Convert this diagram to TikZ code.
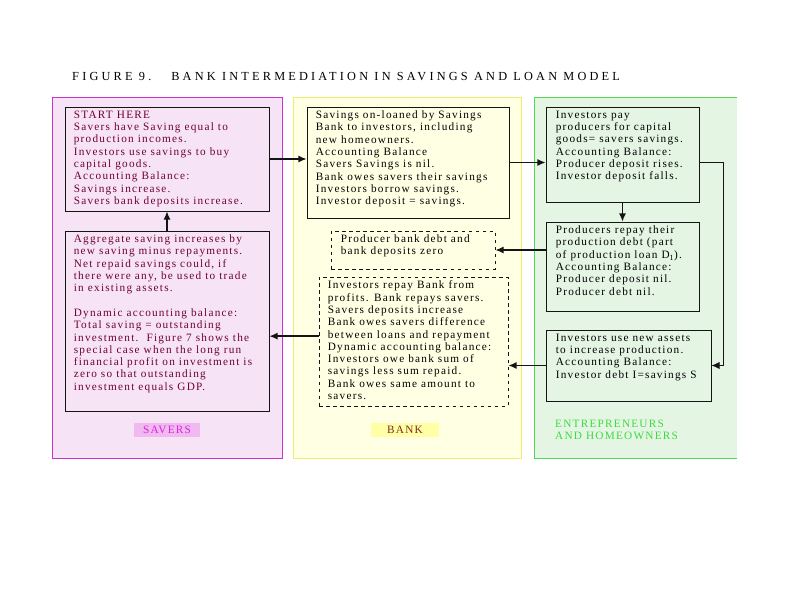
\documentclass[tikz,border=0pt]{standalone}
\usepackage{fontspec}
\setmainfont{Liberation Serif}
\newfontfamily\figfont[LetterSpace=11]{Liberation Serif}
\newfontfamily\ttlfont[LetterSpace=26]{Liberation Serif}
\usetikzlibrary{arrows.meta,calc}
\definecolor{figline}{RGB}{20,20,20}
\definecolor{savline}{RGB}{204,51,204}
\definecolor{savfill}{RGB}{246,228,246}
\definecolor{savtext}{RGB}{112,0,48}
\definecolor{savlab}{RGB}{221,34,221}
\definecolor{savhl}{RGB}{240,185,240}
\definecolor{bankline}{RGB}{238,238,110}
\definecolor{bankfill}{RGB}{255,255,228}
\definecolor{banktext}{RGB}{128,40,40}
\definecolor{bankhl}{RGB}{255,255,165}
\definecolor{entline}{RGB}{85,215,85}
\definecolor{entfill}{RGB}{228,245,228}
\definecolor{entlab}{RGB}{60,220,60}
\tikzset{
  pnl/.style  ={line width=0.7pt},
  bx/.style   ={draw=figline, line width=0.6pt, inner sep=0pt},
  bxd/.style  ={bx, dashed},
  txt/.style  ={font=\figfont\fontsize{9.6}{10.5}\selectfont, align=left, inner sep=0pt, anchor=north west},
  lab/.style  ={font=\figfont\fontsize{9.6}{10.5}\selectfont, align=left, inner xsep=8pt, inner ysep=3pt},
  ptr/.style  ={draw=figline, line width=1.2pt, -{Latex[length=7pt,width=6pt]}},
  ptrs/.style ={draw=figline, line width=0.6pt, -{Latex[length=7pt,width=6pt]}},
}

\begin{document}
\begin{tikzpicture}[x=0.03cm,y=-0.03cm]
  \useasboundingbox (0,0) rectangle (800,600);
  \node[font=\ttlfont\fontsize{10.5}{12}\selectfont, anchor=west, inner sep=0pt] (ttl) at (72,77) {FIGURE 9.\hspace{0.6cm}BANK INTERMEDIATION IN SAVINGS AND LOAN MODEL};
  % panels
  \filldraw[pnl, draw=savline, fill=savfill] (52,97) rectangle (282,458);
  \filldraw[pnl, draw=bankline, fill=bankfill] (293,97) rectangle (521,458);
  \fill[entfill] (534,97) rectangle (737,458);
  \draw[pnl, draw=entline] (737,97) -- (534,97) -- (534,458) -- (737,458);
  % savers
  \node[bx, minimum width=6.12cm, minimum height=3.12cm] (s1) at (167,159) {};
  \node[txt, text=savtext] (s1t) at ($(s1.north west)+(9,4)$) {START HERE\\Savers have Saving equal to\\production incomes.\\Investors use savings to buy\\capital goods.\\Accounting Balance:\\Savings increase.\\Savers bank deposits increase.};
  \node[bx, minimum width=6.12cm, minimum height=5.4cm] (s2) at (167,321) {};
  \node[txt, text=savtext] (s2t) at ($(s2.north west)+(9,4)$) {Aggregate saving increases by\\new saving minus repayments.\\Net repaid savings could, if\\there were any, be used to trade\\in existing assets.\\[10.5pt]Dynamic accounting balance:\\Total saving = outstanding\\investment.\ \ Figure 7 shows the\\special case when the long run\\financial profit on investment is\\zero so that outstanding\\investment equals GDP.};
  \node[lab, text=savlab, fill=savhl] (slab) at (167,430) {SAVERS};
  % bank
  \node[bx, minimum width=6.06cm, minimum height=3.33cm] (b1) at (408,162.5) {};
  \node[txt] (b1t) at ($(b1.north west)+(9,4)$) {Savings on-loaned by Savings\\Bank to investors, including\\new homeowners.\\Accounting Balance\\Savers Savings is nil.\\Bank owes savers their savings\\Investors borrow savings.\\Investor deposit = savings.};
  \node[bxd, minimum width=4.92cm, minimum height=1.14cm] (b2) at (413,250) {};
  \node[txt] (b2t) at ($(b2.north west)+(10,4)$) {Producer bank debt and\\bank deposits zero};
  \node[bxd, minimum width=5.67cm, minimum height=3.87cm] (b3) at (413.5,341.5) {};
  \node[txt] (b3t) at ($(b3.north west)+(9,4)$) {Investors repay Bank from\\profits. Bank repays savers.\\Savers deposits increase\\Bank owes savers difference\\between loans and repayment\\Dynamic accounting balance:\\Investors owe bank sum of\\savings less sum repaid.\\Bank owes same amount to\\savers.};
  \node[lab, text=banktext, fill=bankhl, inner xsep=14pt] (blab) at (405,430) {BANK};
  % entrepreneurs
  \node[bx, minimum width=4.59cm, minimum height=2.85cm] (e1) at (622.5,154.5) {};
  \node[txt] (e1t) at ($(e1.north west)+(10,4)$) {Investors pay\\producers for capital\\goods= savers savings.\\Accounting Balance:\\Producer deposit rises.\\Investor deposit falls.};
  \node[bx, minimum width=4.59cm, minimum height=2.67cm] (e2) at (622.5,266.5) {};
  \node[txt] (e2t) at ($(e2.north west)+(10,4)$) {Producers repay their\\production debt (part\\of production loan D\textsubscript{1}).\\Accounting Balance:\\Producer deposit nil.\\Producer debt nil.};
  \node[bx, minimum width=4.95cm, minimum height=2.13cm] (e3) at (628.5,365.5) {};
  \node[txt] (e3t) at ($(e3.north west)+(10,4)$) {Investors use new assets\\to increase production.\\Accounting Balance:\\Investor debt I=savings S};
  \node[lab, text=entlab, anchor=west, inner xsep=0pt] (elab) at (555,430) {ENTREPRENEURS\\AND HOMEOWNERS};
  % flows
  \coordinate (turn) at (723,0);
  \draw[ptr] (s1.east) -- (s1.east -| b1.west);
  \draw[ptr] (b1.east) -- (b1.east -| e1.west);
  \draw[ptr] (e1.south) -- (e2.north);
  \draw[ptr] (e2.west |- b2.east) -- (b2.east);
  \draw[ptrs] (e1.east |- b1.east) -- (turn |- b1.east) -- (turn |- e3.east) -- (e3.east);
  \draw[ptr] (e3.west) -- (e3.west -| b3.east);
  \draw[ptr] ([yshift=0.16cm]b3.west) -- ([yshift=0.16cm]b3.west -| s2.east);
  \draw[ptr] (s2.north) -- (s1.south);
\end{tikzpicture}
\end{document}
